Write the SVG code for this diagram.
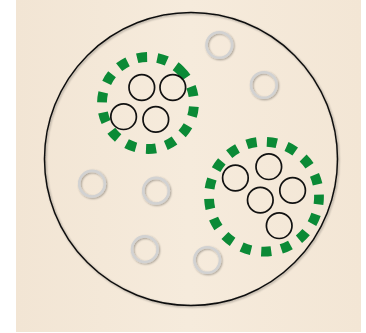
<svg xmlns="http://www.w3.org/2000/svg" width="366" height="333" viewBox="0 0 366 333">
  <defs>
    <filter id="sh" x="-30%" y="-30%" width="160%" height="160%">
      <feGaussianBlur in="SourceAlpha" stdDeviation="1.2"/>
      <feOffset dx="0.8" dy="1" result="b"/>
      <feComponentTransfer><feFuncA type="linear" slope="0.35"/></feComponentTransfer>
      <feMerge><feMergeNode/><feMergeNode in="SourceGraphic"/></feMerge>
    </filter>
    <linearGradient id="wood" x1="0" y1="0" x2="1" y2="0">
      <stop offset="0" stop-color="#f2e5d4"/>
      <stop offset="0.5" stop-color="#f6ebdc"/>
      <stop offset="1" stop-color="#f3e6d5"/>
    </linearGradient>
  </defs>
  <style>
    .big { fill: none; stroke: #111; stroke-width: 1.5; }
    .blk { fill: none; stroke: #111; stroke-width: 1.7; }
    .gry { fill: none; stroke: #d2d2d2; stroke-width: 2.6; }
    .grn { fill: none; stroke: #0b8a36; stroke-width: 9.8; }
  </style>
  <rect x="16" y="0" width="345" height="332" fill="url(#wood)"/>
  <g id="universe" filter="url(#sh)">
    <circle class="big" cx="191" cy="159" r="146.5"/>
  </g>
  <g id="cluster1">
    <circle class="grn" cx="148" cy="103" r="46" stroke-dasharray="10 10.2" transform="rotate(-46 148 103)"/>
    <circle class="blk" cx="141.8" cy="87.5" r="12.8"/>
    <circle class="blk" cx="172.8" cy="87.5" r="12.8"/>
    <circle class="blk" cx="123.6" cy="116.7" r="12.8"/>
    <circle class="blk" cx="155.8" cy="119.4" r="12.8"/>
  </g>
  <g id="cluster2">
    <circle class="grn" cx="264" cy="196.7" r="55" stroke-dasharray="10 10.3" transform="rotate(-87 264 196.7)"/>
    <circle class="blk" cx="235.4" cy="178" r="12.8"/>
    <circle class="blk" cx="268.8" cy="166.7" r="12.8"/>
    <circle class="blk" cx="292.6" cy="190.4" r="12.8"/>
    <circle class="blk" cx="260.3" cy="200.1" r="12.8"/>
    <circle class="blk" cx="279.2" cy="225.7" r="12.8"/>
  </g>
  <g id="outliers" filter="url(#sh)">
    <circle class="gry" cx="219.3" cy="45" r="12.8"/>
    <circle class="gry" cx="263.8" cy="85" r="12.8"/>
    <circle class="gry" cx="92" cy="183.7" r="12.8"/>
    <circle class="gry" cx="156" cy="190.7" r="12.8"/>
    <circle class="gry" cx="144.8" cy="249.2" r="12.8"/>
    <circle class="gry" cx="207.2" cy="260" r="12.8"/>
  </g>
</svg>
